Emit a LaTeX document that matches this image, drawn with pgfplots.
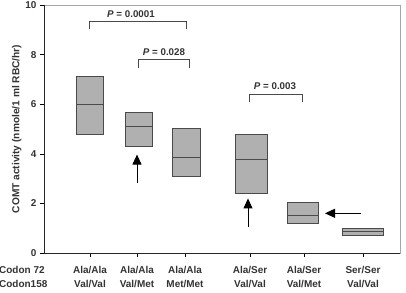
\documentclass[border=0pt]{standalone}
\usepackage{pgfplots}
\pgfplotsset{compat=1.18}
\usepgfplotslibrary{statistics}
\usetikzlibrary{arrows.meta}
\usepackage{fontspec}
\setmainfont{Liberation Sans}
\definecolor{boxfill}{HTML}{B0B0B0}
\definecolor{boxdraw}{HTML}{4A4A4A}
\begin{document}
\begin{tikzpicture}
\useasboundingbox (-44bp,-40bp) rectangle (362bp,253bp);
\begin{axis}[
  anchor=south west, at={(0,0)},
  scale only axis, width=356bp, height=248bp,
  xmin=44, xmax=400, ymin=0, ymax=10,
  clip=false,
  axis line style={draw=gray!70, line width=0.8pt},
  tick align=outside, tick pos=left,
  major tick length=4bp,
  tick style={draw=black, line width=0.6pt},
  ytick={0,2,4,6,8,10},
  xtick={90,137,185,250,304,363},
  xticklabels={Ala/Ala\\Val/Val, Ala/Ala\\Val/Met, Ala/Ala\\Met/Met, Ala/Ser\\Val/Val, Ala/Ser\\Val/Met, Ser/Ser\\Val/Val},
  xticklabel style={align=center, font=\fontsize{10}{14}\selectfont\bfseries, text=black!80, anchor=north, yshift=-5.5bp},
  yticklabel style={font=\fontsize{10}{12}\selectfont\bfseries, text=black!80},
  /pgf/number format/assume math mode=true,
  ylabel={COMT activity (nmole/1 ml RBC/hr)},
  ylabel style={font=\fontsize{10.2}{11}\selectfont\bfseries, text=black!80, yshift=-3bp},
  boxplot/draw direction=y,
]
% left and bottom axis lines darker
\draw[black!85, line width=0.9pt] (axis cs:44,0) -- (axis cs:44,10);
\draw[black!85, line width=0.9pt] (axis cs:44,0) -- (axis cs:400,0);

\addplot[draw=boxdraw, fill=boxfill, line width=0.8pt, boxplot prepared={draw position=90, box extend=27, lower whisker=4.8, lower quartile=4.8, median=6.0, upper quartile=7.12, upper whisker=7.12, whisker extend=0}] coordinates {};
\addplot[draw=boxdraw, fill=boxfill, line width=0.8pt, boxplot prepared={draw position=138.5, box extend=27, lower whisker=4.3, lower quartile=4.3, median=5.12, upper quartile=5.68, upper whisker=5.68, whisker extend=0}] coordinates {};
\addplot[draw=boxdraw, fill=boxfill, line width=0.8pt, boxplot prepared={draw position=186, box extend=28, lower whisker=3.07, lower quartile=3.07, median=3.85, upper quartile=5.02, upper whisker=5.02, whisker extend=0}] coordinates {};
\addplot[draw=boxdraw, fill=boxfill, line width=0.8pt, boxplot prepared={draw position=251, box extend=32, lower whisker=2.42, lower quartile=2.42, median=3.79, upper quartile=4.8, upper whisker=4.8, whisker extend=0}] coordinates {};
\addplot[draw=boxdraw, fill=boxfill, line width=0.8pt, boxplot prepared={draw position=302.5, box extend=31, lower whisker=1.2, lower quartile=1.2, median=1.53, upper quartile=2.06, upper whisker=2.06, whisker extend=0}] coordinates {};
\addplot[draw=boxdraw, fill=boxfill, line width=0.8pt, boxplot prepared={draw position=362.5, box extend=41, lower whisker=0.72, lower quartile=0.72, median=0.87, upper quartile=1.0, upper whisker=1.0, whisker extend=0}] coordinates {};

% significance brackets
\draw[boxdraw, line width=0.9pt] (axis cs:89,9.03) -- (axis cs:89,9.35) -- (axis cs:186,9.35) -- (axis cs:186,9.03);
\node[font=\fontsize{9.8}{11}\selectfont\bfseries, text=black!80] at (axis cs:131,9.64) {\textit{P} = 0.0001};
\draw[boxdraw, line width=0.9pt] (axis cs:138,7.46) -- (axis cs:138,7.82) -- (axis cs:189,7.82) -- (axis cs:189,7.46);
\node[font=\fontsize{9.8}{11}\selectfont\bfseries, text=black!80] at (axis cs:164,8.1) {\textit{P} = 0.028};
\draw[boxdraw, line width=0.9pt] (axis cs:249,6.09) -- (axis cs:249,6.41) -- (axis cs:302,6.41) -- (axis cs:302,6.09);
\node[font=\fontsize{9.8}{11}\selectfont\bfseries, text=black!80] at (axis cs:275,6.73) {\textit{P} = 0.003};

% arrows
\draw[black, line width=0.9pt, -{Triangle[width=9bp,length=10bp]}] (axis cs:137,2.82) -- (axis cs:137,3.97);
\draw[black, line width=0.9pt, -{Triangle[width=9bp,length=10bp]}] (axis cs:248,1.05) -- (axis cs:248,2.2);
\draw[black, line width=0.9pt, -{Triangle[width=9bp,length=10bp]}] (axis cs:361,1.6) -- (axis cs:325,1.6);

% row label
\node[font=\fontsize{10}{13}\selectfont\bfseries, text=black!80, anchor=west, inner sep=0pt] at (axis cs:-1,-0.70) {Codon 72};
\node[font=\fontsize{10}{13}\selectfont\bfseries, text=black!80, anchor=west, inner sep=0pt] at (axis cs:-1,-1.25) {Codon158};
\end{axis}
\end{tikzpicture}
\end{document}
